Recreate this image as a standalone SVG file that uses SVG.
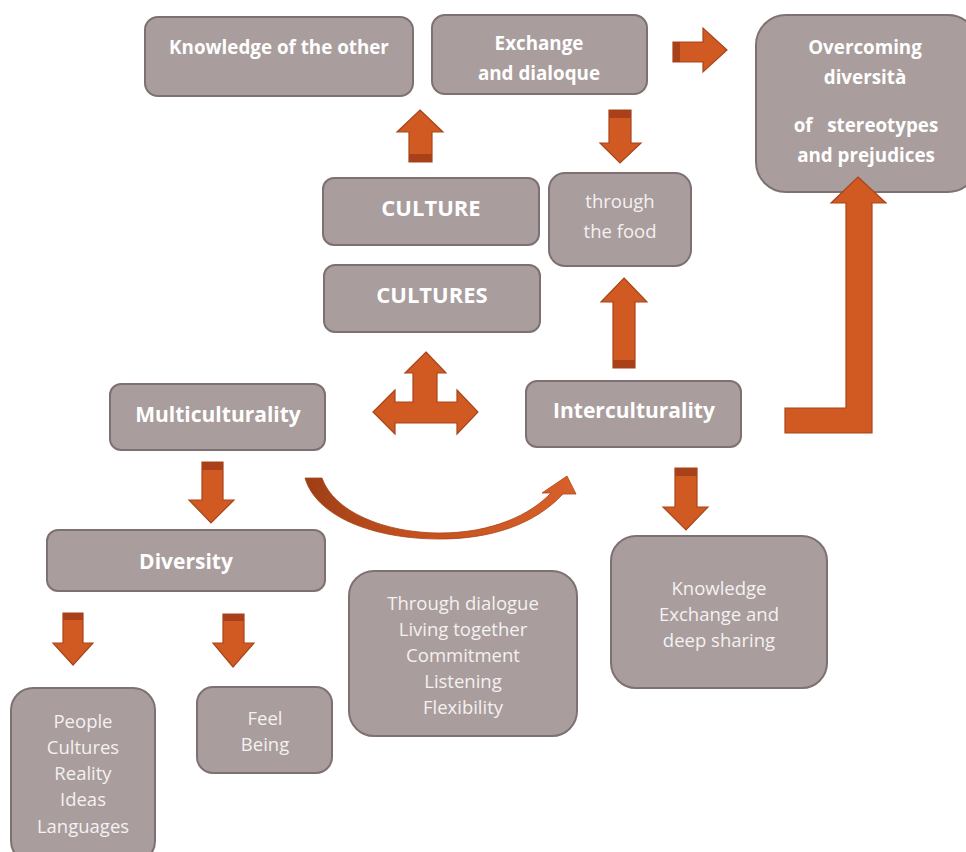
<svg xmlns="http://www.w3.org/2000/svg" width="966" height="852" viewBox="0 0 966 852">
<defs>
<style>
.box{fill:#A99D9D;stroke:#7E7171;stroke-width:2}
.b{font-family:"Open Sans","Noto Sans","DejaVu Sans",sans-serif;font-weight:bold;fill:#FFFFFF;text-anchor:middle}
.r{font-family:"Open Sans","Noto Sans","DejaVu Sans",sans-serif;fill:#F4F1F1;text-anchor:middle;font-size:18.5px}
.ar{fill:#D05A22;stroke:#A9451A;stroke-width:1.2;stroke-linejoin:miter}
.band{fill:#A8401A}
</style>
<linearGradient id="cg" x1="0" y1="0" x2="1" y2="0">
<stop offset="0" stop-color="#9E3E16"/>
<stop offset="0.4" stop-color="#C4521E"/>
<stop offset="1" stop-color="#D8602A"/>
</linearGradient>
</defs>
<rect width="966" height="852" fill="#FFFFFF"/>

<g id="n-knowledge-other">
<rect class="box" x="145" y="17" width="268" height="79" rx="13"/>
<text class="b" x="279" y="54" font-size="18.8">Knowledge of the other</text>
</g>
<g id="n-exchange">
<rect class="box" x="432" y="15" width="215" height="79" rx="13"/>
<text class="b" x="539" y="50" font-size="18.8">Exchange</text>
<text class="b" x="539" y="80" font-size="18.8">and dialoque</text>
</g>
<g id="n-overcoming">
<rect class="box" x="756" y="15" width="222" height="177" rx="30"/>
<text class="b" x="865" y="54" font-size="18.8">Overcoming</text>
<text class="b" x="865" y="84" font-size="18.8">diversità</text>
<text class="b" x="866" y="132" font-size="18.8" xml:space="preserve">of   stereotypes</text>
<text class="b" x="866" y="162" font-size="18.8">and prejudices</text>
</g>
<g id="n-culture">
<rect class="box" x="323" y="178" width="216" height="67" rx="11"/>
<text class="b" x="431" y="216" font-size="22">CULTURE</text>
</g>
<g id="n-cultures">
<rect class="box" x="324" y="265" width="216" height="67" rx="11"/>
<text class="b" x="432" y="303" font-size="22">CULTURES</text>
</g>
<g id="n-food">
<rect class="box" x="549" y="173" width="142" height="93" rx="16"/>
<text class="r" x="620" y="208">through</text>
<text class="r" x="620" y="238">the food</text>
</g>
<g id="n-multi">
<rect class="box" x="110" y="384" width="215" height="66" rx="11"/>
<text class="b" x="218" y="422" font-size="21">Multiculturality</text>
</g>
<g id="n-inter">
<rect class="box" x="526" y="381" width="215" height="66" rx="11"/>
<text class="b" x="634" y="418" font-size="21">Interculturality</text>
</g>
<g id="n-diversity">
<rect class="box" x="47" y="530" width="278" height="61" rx="11"/>
<text class="b" x="186" y="569" font-size="21">Diversity</text>
</g>
<g id="n-through">
<rect class="box" x="349" y="571" width="228" height="165" rx="25"/>
<text class="r" x="463" y="610">Through dialogue</text>
<text class="r" x="463" y="636">Living together</text>
<text class="r" x="463" y="662">Commitment</text>
<text class="r" x="463" y="688">Listening</text>
<text class="r" x="463" y="714">Flexibility</text>
</g>
<g id="n-knowledge-exchange">
<rect class="box" x="611" y="536" width="216" height="152" rx="25"/>
<text class="r" x="719" y="595">Knowledge</text>
<text class="r" x="719" y="621">Exchange and</text>
<text class="r" x="719" y="647">deep sharing</text>
</g>
<g id="n-people">
<rect class="box" x="11" y="688" width="144" height="175" rx="22"/>
<text class="r" x="83" y="728">People</text>
<text class="r" x="83" y="754">Cultures</text>
<text class="r" x="83" y="780">Reality</text>
<text class="r" x="83" y="806">Ideas</text>
<text class="r" x="83" y="833">Languages</text>
</g>
<g id="n-feel">
<rect class="box" x="197" y="687" width="135" height="86" rx="16"/>
<text class="r" x="265" y="725">Feel</text>
<text class="r" x="265" y="751">Being</text>
</g>

<g id="connectors">
<path class="ar" d="M673,42 L703,42 L703,28 L727,50 L703,72 L703,62 L673,62 Z"/>
<rect class="band" x="673" y="42" width="7" height="20"/>
<path class="ar" d="M420,110 L443,132 L432,132 L432,162 L409,162 L409,132 L397,132 Z"/>
<rect class="band" x="409" y="154" width="23" height="8"/>
<path class="ar" d="M609,110 L631,110 L631,143 L641,143 L620,163 L600,143 L609,143 Z"/>
<rect class="band" x="609" y="110" width="22" height="8"/>
<path class="ar" d="M624,278 L647,302 L635,302 L635,368 L613,368 L613,302 L601,302 Z"/>
<rect class="band" x="613" y="360" width="22" height="8"/>
<path class="ar" d="M858,177 L886,203 L872,203 L872,433 L785,433 L785,408 L846,408 L846,203 L831,203 Z"/>
<path class="ar" d="M426,352 L446,373 L437,373 L437,402 L457,402 L457,390 L478,412 L457,434 L457,423 L395,423 L395,434 L373,412 L395,390 L395,402 L413,402 L413,373 L405,373 Z"/>
<path class="ar" d="M202,462 L223,462 L223,500 L234,500 L211,523 L189,500 L202,500 Z"/>
<rect class="band" x="202" y="462" width="21" height="8"/>
<path class="ar" d="M675,468 L697,468 L697,507 L708,507 L686,530 L663,507 L675,507 Z"/>
<rect class="band" x="675" y="468" width="22" height="8"/>
<path class="ar" d="M63,613 L83,613 L83,643 L93,643 L73,665 L53,643 L63,643 Z"/>
<rect class="band" x="63" y="613" width="20" height="7"/>
<path class="ar" d="M223,614 L244,614 L244,643 L254,643 L233,667 L213,643 L223,643 Z"/>
<rect class="band" x="223" y="614" width="21" height="7"/>
<path d="M305,478 L322,478 C334,512 385,533 440,533 C492,533 530,515 551,493 L542,493 L567,476 L576,494 L563,494 C535,524 492,539 440,539 C372,539 316,516 305,478 Z" fill="url(#cg)" stroke="#A9451A" stroke-width="0.8"/>
</g>
</svg>
